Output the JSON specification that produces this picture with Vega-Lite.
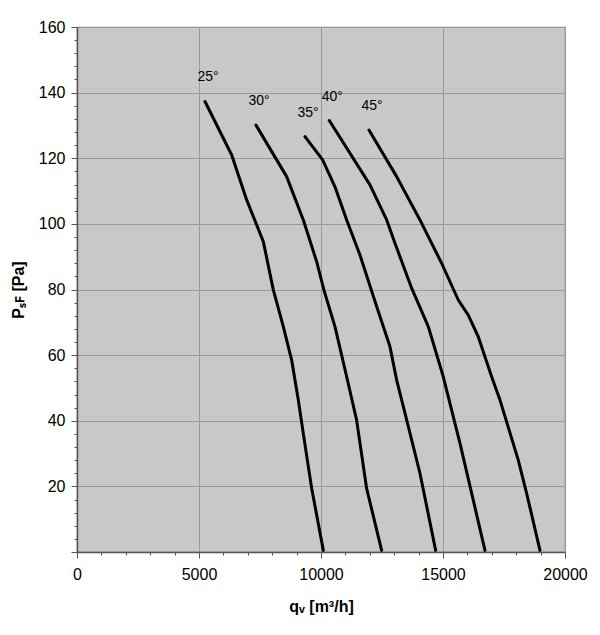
{
  "$schema": "https://vega.github.io/schema/vega-lite/v6.json",
  "width": 488,
  "height": 525,
  "autosize": "none",
  "padding": {"left": 77, "top": 27, "right": 35, "bottom": 83},
  "background": "white",
  "config": {
    "font": "Liberation Sans",
    "view": {"fill": "#c8c8c8", "stroke": "#808080", "strokeWidth": 1.2},
    "axis": {
      "labelFont": "Liberation Sans",
      "labelFontSize": 16,
      "labelColor": "#000",
      "titleFont": "Liberation Sans",
      "titleFontSize": 16,
      "titleFontWeight": "bold",
      "titleColor": "#000",
      "domainColor": "#555",
      "domainWidth": 1.5,
      "tickColor": "#555",
      "gridColor": "#999",
      "gridWidth": 1
    }
  },
  "data": {
    "values": [
      {"angle": "25°", "q": 5246, "p": 137.3},
      {"angle": "25°", "q": 6340, "p": 121.0},
      {"angle": "25°", "q": 6954, "p": 107.3},
      {"angle": "25°", "q": 7636, "p": 94.6},
      {"angle": "25°", "q": 8046, "p": 79.9},
      {"angle": "25°", "q": 8456, "p": 68.7},
      {"angle": "25°", "q": 8797, "p": 58.5},
      {"angle": "25°", "q": 9070, "p": 46.3},
      {"angle": "25°", "q": 9303, "p": 34.7},
      {"angle": "25°", "q": 9617, "p": 19.4},
      {"angle": "25°", "q": 10095, "p": 0.5},
      {"angle": "30°", "q": 7335, "p": 130.1},
      {"angle": "30°", "q": 8593, "p": 114.4},
      {"angle": "30°", "q": 9275, "p": 101.2},
      {"angle": "30°", "q": 9822, "p": 88.5},
      {"angle": "30°", "q": 10140, "p": 79.3},
      {"angle": "30°", "q": 10573, "p": 68.7},
      {"angle": "30°", "q": 11052, "p": 53.4},
      {"angle": "30°", "q": 11460, "p": 40.2},
      {"angle": "30°", "q": 11869, "p": 19.4},
      {"angle": "30°", "q": 12485, "p": 0.5},
      {"angle": "35°", "q": 9344, "p": 126.6},
      {"angle": "35°", "q": 10068, "p": 119.5},
      {"angle": "35°", "q": 10573, "p": 111.3},
      {"angle": "35°", "q": 11052, "p": 101.2},
      {"angle": "35°", "q": 11597, "p": 90.5},
      {"angle": "35°", "q": 12281, "p": 74.8},
      {"angle": "35°", "q": 12826, "p": 62.6},
      {"angle": "35°", "q": 13101, "p": 52.4},
      {"angle": "35°", "q": 13442, "p": 42.3},
      {"angle": "35°", "q": 14056, "p": 24.0},
      {"angle": "35°", "q": 14699, "p": 0.5},
      {"angle": "40°", "q": 10340, "p": 131.5},
      {"angle": "40°", "q": 12007, "p": 111.9},
      {"angle": "40°", "q": 12691, "p": 101.2},
      {"angle": "40°", "q": 13032, "p": 94.1},
      {"angle": "40°", "q": 13715, "p": 80.4},
      {"angle": "40°", "q": 14398, "p": 68.7},
      {"angle": "40°", "q": 15012, "p": 53.4},
      {"angle": "40°", "q": 15697, "p": 33.1},
      {"angle": "40°", "q": 16240, "p": 15.8},
      {"angle": "40°", "q": 16720, "p": 0.5},
      {"angle": "45°", "q": 11966, "p": 128.6},
      {"angle": "45°", "q": 13101, "p": 114.4},
      {"angle": "45°", "q": 14056, "p": 101.2},
      {"angle": "45°", "q": 14944, "p": 88.0},
      {"angle": "45°", "q": 15626, "p": 76.8},
      {"angle": "45°", "q": 16036, "p": 72.2},
      {"angle": "45°", "q": 16446, "p": 65.6},
      {"angle": "45°", "q": 16994, "p": 53.4},
      {"angle": "45°", "q": 17336, "p": 46.3},
      {"angle": "45°", "q": 18085, "p": 28.0},
      {"angle": "45°", "q": 18428, "p": 17.9},
      {"angle": "45°", "q": 18975, "p": 0.5}
    ]
  },
  "encoding": {
    "x": {
      "field": "q",
      "type": "quantitative",
      "scale": {"domain": [0, 20000], "nice": false, "zero": false},
      "axis": {
        "title": "qᵥ [m³/h]",
        "titlePadding": 16,
        "values": [0, 1000, 2000, 3000, 4000, 5000, 6000, 7000, 8000, 9000, 10000, 11000, 12000, 13000, 14000, 15000, 16000, 17000, 18000, 19000, 20000],
        "format": "d",
        "labelExpr": "datum.value % 5000 === 0 ? datum.label : ''",
        "labelPadding": 8,
        "labelFlush": false,
        "tickSize": {"condition": {"test": "datum.value % 5000 === 0", "value": 6}, "value": 3},
        "gridOpacity": {"condition": {"test": "datum.value % 5000 === 0", "value": 1}, "value": 0}
      }
    },
    "y": {
      "field": "p",
      "type": "quantitative",
      "scale": {"domain": [0, 160], "nice": false},
      "axis": {
        "title": "Pₛꜰ [Pa]",
        "titlePadding": 12,
        "values": [0, 4, 8, 12, 16, 20, 24, 28, 32, 36, 40, 44, 48, 52, 56, 60, 64, 68, 72, 76, 80, 84, 88, 92, 96, 100, 104, 108, 112, 116, 120, 124, 128, 132, 136, 140, 144, 148, 152, 156, 160],
        "labelExpr": "datum.value % 20 === 0 && datum.value > 0 ? datum.label : ''",
        "labelPadding": 6,
        "labelFlush": false,
        "tickSize": {"condition": {"test": "datum.value % 20 === 0", "value": 6}, "value": 3},
        "gridOpacity": {"condition": {"test": "datum.value % 20 === 0", "value": 1}, "value": 0}
      }
    }
  },
  "layer": [
    {
      "mark": {"type": "line", "color": "#000", "strokeWidth": 3, "interpolate": "linear", "strokeJoin": "round", "strokeCap": "round"},
      "encoding": {"detail": {"field": "angle"}}
    },
    {
      "transform": [
        {"joinaggregate": [{"op": "max", "field": "p", "as": "ptop"}], "groupby": ["angle"]},
        {"filter": "datum.p === datum.ptop"}
      ],
      "mark": {"type": "text", "fontSize": 14, "color": "#000", "dx": 3, "dy": -24},
      "encoding": {"text": {"field": "angle"}}
    }
  ]
}
